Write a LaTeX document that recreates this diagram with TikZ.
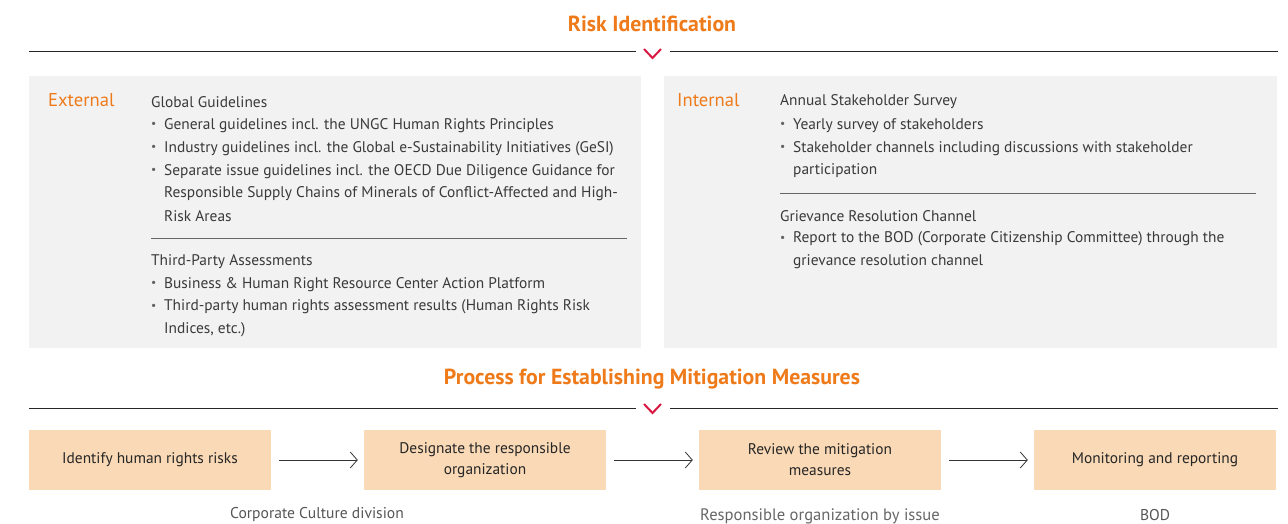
\documentclass[tikz,border=0pt]{standalone}
\usepackage{fontspec}
\setmainfont{PT Sans}
\usetikzlibrary{arrows.meta}
\definecolor{orng}{HTML}{EE7A1A}
\definecolor{chev}{HTML}{D91842}
\definecolor{panel}{HTML}{F2F2F2}
\definecolor{peach}{HTML}{F9D9B6}
\definecolor{body}{HTML}{3A3A3A}
\definecolor{sub}{HTML}{555555}
\tikzset{
  ttl/.style={font=\fontsize{21.8}{24}\selectfont\bfseries, text=orng, inner sep=0pt},
  rule/.style={draw=black!85, line width=1pt},
  chv/.style={draw=chev, line width=2pt},
  pnl/.style={fill=panel, draw=none},
  side/.style={font=\fontsize{18.6}{20}\selectfont, text=orng, anchor=west, inner sep=0pt},
  hd/.style={font=\fontsize{15.4}{23}\selectfont, text=body, anchor=west, inner sep=0pt},
  bl/.style={font=\fontsize{15.4}{23}\selectfont, text=body, anchor=west, inner sep=0pt},
  sep/.style={draw=black!60, line width=0.9pt},
  stepbox/.style={fill=peach, draw=none, minimum width=242pt, minimum height=60pt, align=center, inner sep=0pt, font=\fontsize{15.4}{21}\selectfont, text=black!85},
  sublbl/.style={font=\fontsize{15.6}{18}\selectfont, text=sub, inner sep=0pt},
  flow/.style={draw=black!80, line width=0.8pt, -{Straight Barb[length=7pt,width=16pt,line width=0.8pt]}}
}
\newcommand{\bul}{\textcolor{body!80}{\raisebox{0.15ex}{\scalebox{0.75}{•}}}}
\begin{document}
\begin{tikzpicture}[x=1pt,y=-1pt]
\useasboundingbox (0,0) rectangle (1288,524);
% ---------- Risk Identification ----------
\node[ttl] (t1) at (652,23.5) {Risk Identification};
\coordinate (l1a) at (29,52); \coordinate (l1b) at (636,52);
\coordinate (l1c) at (670,52); \coordinate (l1d) at (1278,52);
\draw[rule] (l1a) -- (l1b);
\draw[rule] (l1c) -- (l1d);
\coordinate (c1a) at (644,49); \coordinate (c1b) at (652.5,58); \coordinate (c1c) at (661,49);
\draw[chv] (c1a) -- (c1b) -- (c1c);
% panels
\fill[pnl] (29,76) rectangle (641,348);
\fill[pnl] (664,76) rectangle (1277,348);
% External
\node[side] (ext) at (48,100) {External};
\node[hd] (gg) at (151,102) {Global Guidelines};
\node[bl] (g1b) at (151,125.5) {\bul};
\node[bl] (g1) at (164,125.5) {General guidelines incl. the UNGC Human Rights Principles};
\node[bl] (g2b) at (151,148.5) {\bul};
\node[bl] (g2) at (164,148.5) {Industry guidelines incl. the Global e-Sustainability Initiatives (GeSI)};
\node[bl] (g3b) at (151,171.5) {\bul};
\node[bl] (g3) at (164,171.5) {Separate issue guidelines incl. the OECD Due Diligence Guidance for};
\node[bl] (g3c) at (164,194) {Responsible Supply Chains of Minerals of Conflict-Affected and High-};
\node[bl] (g3d) at (164,216) {Risk Areas};
\coordinate (s1a) at (151,238); \coordinate (s1b) at (627,238);
\draw[sep] (s1a) -- (s1b);
\node[hd] (tp) at (151,261.5) {Third-Party Assessments};
\node[bl] (t1b) at (151,284.5) {\bul};
\node[bl] (tp1) at (164,284.5) {Business \& Human Right Resource Center Action Platform};
\node[bl] (t2b) at (151,307) {\bul};
\node[bl] (tp2) at (164,307) {Third-party human rights assessment results (Human Rights Risk};
\node[bl] (tp2c) at (164,330) {Indices, etc.)};
% Internal
\node[side] (int) at (677,100) {Internal};
\node[hd] (as) at (780,102) {Annual Stakeholder Survey};
\node[bl] (a1b) at (780,125.5) {\bul};
\node[bl] (a1) at (793,125.5) {Yearly survey of stakeholders};
\node[bl] (a2b) at (780,148.5) {\bul};
\node[bl] (a2) at (793,148.5) {Stakeholder channels including discussions with stakeholder};
\node[bl] (a2c) at (793,171) {participation};
\coordinate (s2a) at (780,193); \coordinate (s2b) at (1256,193);
\draw[sep] (s2a) -- (s2b);
\node[hd] (gr) at (780,216) {Grievance Resolution Channel};
\node[bl] (r1b) at (780,239) {\bul};
\node[bl] (r1) at (793,239) {Report to the BOD (Corporate Citizenship Committee) through the};
\node[bl] (r1c) at (793,262) {grievance resolution channel};
% ---------- Process ----------
\node[ttl] (t2) at (652,379.5) {Process for Establishing Mitigation Measures};
\coordinate (l2a) at (29,408); \coordinate (l2b) at (636,408);
\coordinate (l2c) at (670,408); \coordinate (l2d) at (1278,408);
\draw[rule] (l2a) -- (l2b);
\draw[rule] (l2c) -- (l2d);
\coordinate (c2a) at (644,404); \coordinate (c2b) at (652.5,413); \coordinate (c2c) at (661,404);
\draw[chv] (c2a) -- (c2b) -- (c2c);
% steps
\node[stepbox] (b1) at (150,460) {Identify human rights risks};
\node[stepbox] (b2) at (485,460) {Designate the responsible\\organization};
\node[stepbox] (b3) at (820,460) {Review the mitigation\\measures};
\node[stepbox] (b4) at (1155,460) {Monitoring and reporting};
\draw[flow] ([xshift=8pt]b1.east) -- ([xshift=-6pt]b2.west);
\draw[flow] ([xshift=8pt]b2.east) -- ([xshift=-6pt]b3.west);
\draw[flow] ([xshift=8pt]b3.east) -- ([xshift=-6pt]b4.west);
\node[sublbl] (u1) at (317,515) {Corporate Culture division};
\node[sublbl, font=\fontsize{16.6}{18}\selectfont, text=black!60] (u3) at (820,516) {Responsible organization by issue};
\node[sublbl] (u4) at (1155,515) {BOD};
\end{tikzpicture}
\end{document}
